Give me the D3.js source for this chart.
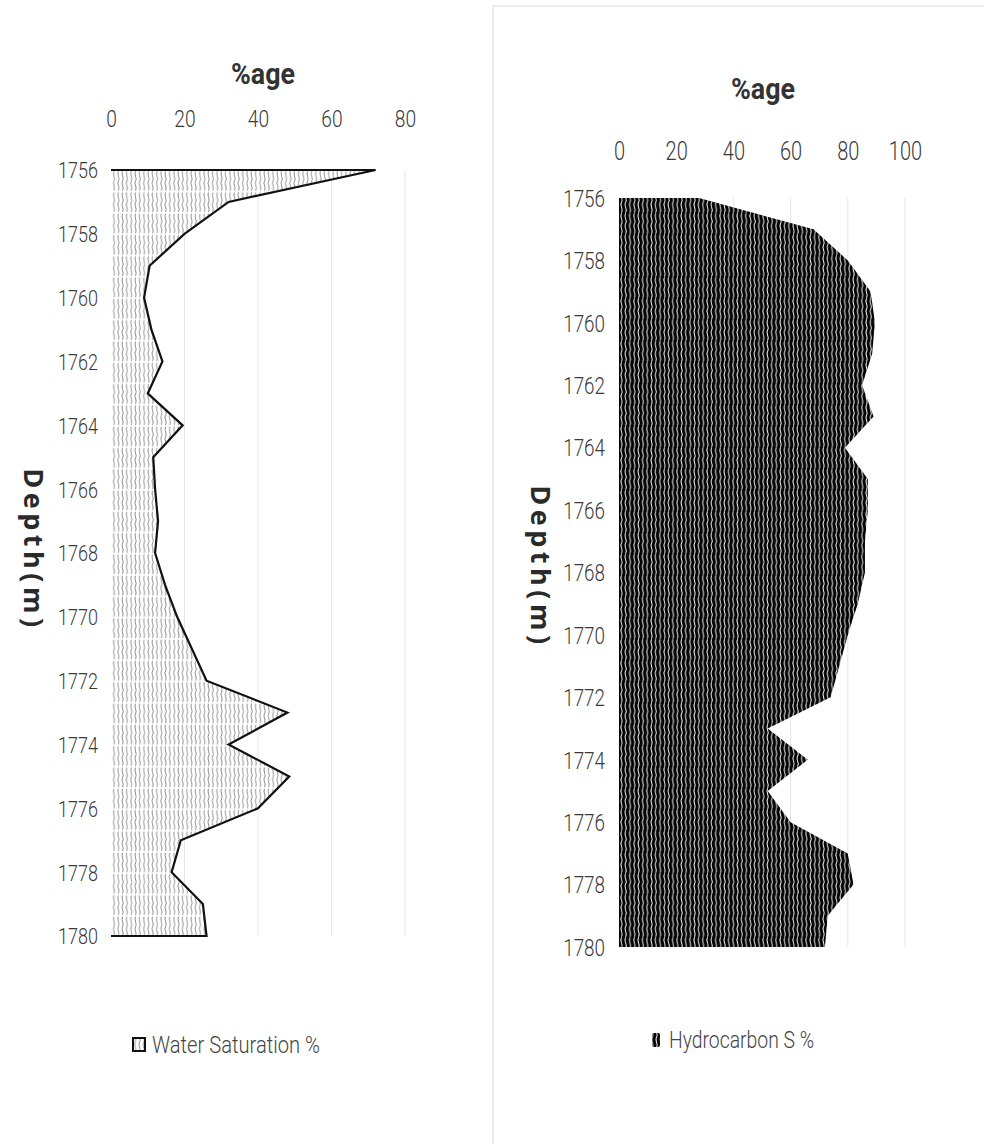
<!DOCTYPE html>
<html>
<head>
<meta charset="utf-8">
<script src="https://cdn.jsdelivr.net/npm/d3@7"></script>
<style>
  html, body { margin: 0; padding: 0; background: #fff; }
  svg { display: block; }
  .tick-label { font-family: Roboto, "Liberation Sans", sans-serif; font-weight: 300; fill: #3a3a3a; }
  .title { font-family: Roboto, "Liberation Sans", sans-serif; font-weight: bold; fill: #333; }
  .ytitle { font-family: "Open Sans", "DejaVu Sans", sans-serif; font-weight: bold; fill: #2a2a2a; }
  .legend { font-family: Roboto, "Liberation Sans", sans-serif; font-weight: 300; fill: #444; }
</style>
</head>
<body>
<svg id="chart" width="984" height="1144"></svg>
<script>
// Depth (m) of each sample
const depths = [1756, 1757, 1758, 1759, 1760, 1761, 1762, 1763, 1764, 1765, 1766, 1767, 1768,
                1769, 1770, 1771, 1772, 1773, 1774, 1775, 1776, 1777, 1778, 1779, 1780];

// Water saturation (%) at each depth
const waterSat = [72, 32, 20, 10.5, 9, 11, 14, 10, 19.5, 11.5, 12, 12.8, 12,
                  14.7, 18, 22, 26, 48, 32, 48.5, 40, 19, 16.5, 25, 26];

// Hydrocarbon saturation (%) at each depth
const hydroSat = [28, 68, 80, 88, 89.5, 88.5, 85, 89, 79, 87, 87, 86, 86,
                  83.5, 80, 77, 74, 52, 66, 52, 60, 80, 82, 73, 72];

// Axis ticks
const depthTicks = [1756, 1758, 1760, 1762, 1764, 1766, 1768, 1770, 1772, 1774, 1776, 1778, 1780];
const leftPctTicks = [0, 20, 40, 60, 80];
const rightPctTicks = [0, 20, 40, 60, 80, 100];

// Text
const pctTitle = "%age";
const depthTitle = "Depth(m)";
const leftLegend = "Water Saturation %";
const rightLegend = "Hydrocarbon S %";

const svg = d3.select("#chart");
const defs = svg.append("defs");

// Wave hatch used by both series
function wavePattern(id, bg, fg, sw, top, bottom) {
  const w = 4.3, h = 21.3;
  const mid = (top + bottom) / 2;
  const q = (bottom - top) / 4;
  const p = defs.append("pattern")
    .attr("id", id)
    .attr("patternUnits", "userSpaceOnUse")
    .attr("width", w)
    .attr("height", h);
  p.append("rect").attr("width", w).attr("height", h).attr("fill", bg);
  p.append("path")
    .attr("d", `M2.2,${top} C-0.2,${top + q} 4.6,${mid - q * 0.8} 2.2,${mid} C-0.2,${mid + q * 0.8} 4.6,${bottom - q} 2.2,${bottom}`)
    .attr("fill", "none")
    .attr("stroke", fg)
    .attr("stroke-width", sw);
}
wavePattern("waveLight", "#ffffff", "#8a8a8a", 0.9, 0.8, 20.4);
wavePattern("waveDark", "#050505", "#ffffff", 0.95, 0.3, 21.0);

// Outer frame of the right-hand chart
svg.append("rect")
  .attr("x", 493).attr("y", 6)
  .attr("width", 500).attr("height", 1150)
  .attr("fill", "none")
  .attr("stroke", "#e0e0e0")
  .attr("stroke-width", 1.2);

function panel(cfg) {
  const x = d3.scaleLinear().domain(cfg.xDomain).range(cfg.xRange);
  const y = d3.scaleLinear().domain([depths[0], depths[depths.length - 1]]).range(cfg.yRange);
  const g = svg.append("g");

  // vertical gridlines
  g.append("g").selectAll("line")
    .data(cfg.xTicks.filter(t => t > 0))
    .join("line")
    .attr("x1", d => x(d)).attr("x2", d => x(d))
    .attr("y1", cfg.yRange[0]).attr("y2", cfg.yRange[1])
    .attr("stroke", "#e6e6e6")
    .attr("stroke-width", 1);

  const pts = depths.map((d, i) => ({ depth: d, v: cfg.values[i] }));

  const area = d3.area()
    .y(d => y(d.depth))
    .x0(x(0))
    .x1(d => x(d.v));

  g.append("path")
    .datum(pts)
    .attr("d", area)
    .attr("fill", `url(#${cfg.pattern})`);

  if (cfg.outline) {
    const edge = [{ depth: depths[0], v: 0 }, ...pts, { depth: depths[depths.length - 1], v: 0 }];
    g.append("path")
      .datum(edge)
      .attr("d", d3.line().x(d => x(d.v)).y(d => y(d.depth)))
      .attr("fill", "none")
      .attr("stroke", "#111")
      .attr("stroke-width", 2.2)
      .attr("stroke-linejoin", "miter");
  }

  // value axis along the top
  const xAxis = d3.axisTop(x).tickValues(cfg.xTicks).tickSize(0).tickPadding(0);
  const xa = g.append("g")
    .attr("transform", `translate(0,${cfg.xLabelY})`)
    .call(xAxis);
  xa.select(".domain").remove();
  xa.selectAll("text")
    .attr("class", "tick-label")
    .attr("font-size", cfg.xFont)
    .attr("dy", 0)
    .attr("transform", "scale(0.8,1)")
    .attr("fill", "#3a3a3a");

  // depth axis on the left
  const yAxis = d3.axisLeft(y).tickValues(depthTicks).tickSize(0).tickPadding(0).tickFormat(d3.format("d"));
  const ya = g.append("g")
    .attr("transform", `translate(${cfg.yLabelX},0)`)
    .call(yAxis);
  ya.select(".domain").remove();
  ya.selectAll("text")
    .attr("class", "tick-label")
    .attr("font-size", cfg.yFont)
    .attr("dy", "0.36em")
    .attr("transform", "scale(0.82,1)")
    .attr("fill", "#3a3a3a");

  // titles
  g.append("text")
    .attr("class", "title")
    .attr("x", cfg.titleX - 32).attr("y", cfg.titleY)
    .attr("font-size", 30)
    .attr("textLength", 64)
    .attr("lengthAdjust", "spacingAndGlyphs")
    .text(pctTitle);

  g.append("text")
    .attr("class", "ytitle")
    .attr("transform", `translate(${cfg.yTitleX},${cfg.yTitleY}) rotate(90)`)
    .attr("text-anchor", "middle")
    .attr("font-size", 27)
    .attr("letter-spacing", 4.5)
    .text(depthTitle);

  // legend
  const lg = g.append("g").attr("transform", `translate(${cfg.legendX},${cfg.legendY})`);
  if (cfg.outline) {
    lg.append("rect")
      .attr("x", 0).attr("y", -15).attr("width", 12).attr("height", 13)
      .attr("fill", `url(#${cfg.pattern})`)
      .attr("stroke", "#111").attr("stroke-width", 2);
  } else {
    lg.append("rect")
      .attr("x", 2).attr("y", -15).attr("width", 8).attr("height", 14)
      .attr("rx", 2)
      .attr("fill", `url(#${cfg.pattern})`);
  }
  lg.append("text")
    .attr("class", "legend")
    .attr("x", 19).attr("y", 0)
    .attr("font-size", 23)
    .attr("textLength", cfg.legendWidth)
    .attr("lengthAdjust", "spacingAndGlyphs")
    .text(cfg.legend);
}

panel({
  values: waterSat,
  xDomain: [0, 80], xRange: [111, 405],
  yRange: [170, 936],
  xTicks: leftPctTicks,
  pattern: "waveLight",
  outline: true,
  xLabelY: 127, xFont: 24,
  yLabelX: 98, yFont: 22,
  titleX: 263, titleY: 84,
  yTitleX: 24, yTitleY: 550,
  legendX: 133, legendY: 1053,
  legend: leftLegend, legendWidth: 168
});

panel({
  values: hydroSat,
  xDomain: [0, 100], xRange: [619, 905],
  yRange: [198, 947],
  xTicks: rightPctTicks,
  pattern: "waveDark",
  outline: false,
  xLabelY: 160, xFont: 25,
  yLabelX: 605, yFont: 23,
  titleX: 763, titleY: 99,
  yTitleX: 531, yTitleY: 567,
  legendX: 650, legendY: 1048,
  legend: rightLegend, legendWidth: 145
});
</script>
</body>
</html>
